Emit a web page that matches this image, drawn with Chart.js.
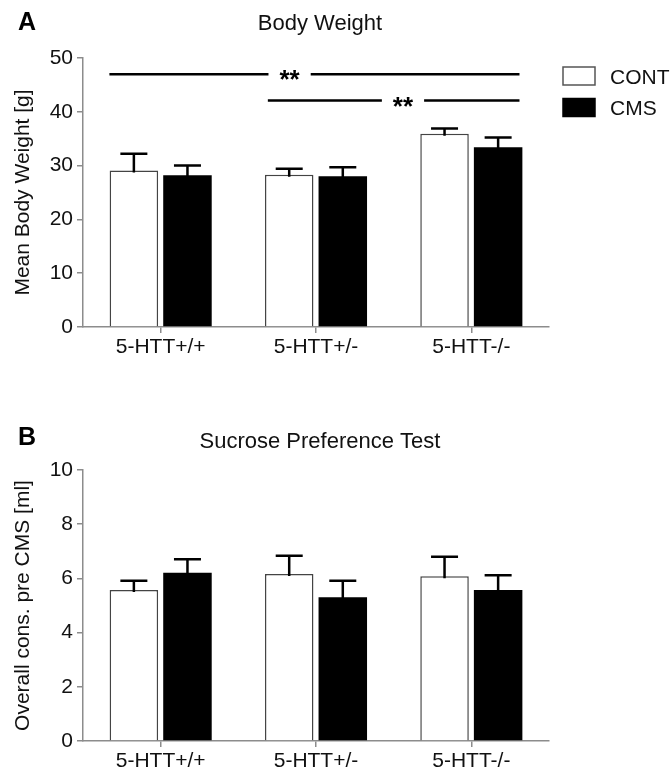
<!DOCTYPE html>
<html>
<head>
<meta charset="utf-8">
<script src="https://cdn.jsdelivr.net/npm/chart.js@4.4.1/dist/chart.umd.min.js"></script>
<style>
  html, body { margin: 0; padding: 0; background: #fff; }
  #wrap { position: relative; width: 672px; height: 773px; }
  .panel { position: absolute; left: 0; width: 672px; }
  #panelA { top: 0; height: 380px; }
  #panelB { top: 380px; height: 393px; }
</style>
</head>
<body>
<div id="wrap">
  <div class="panel" id="panelA"><canvas id="weightChart"></canvas></div>
  <div class="panel" id="panelB"><canvas id="sucroseChart"></canvas></div>
</div>
<script>
// Data
const genotypes = ['5-HTT+/+', '5-HTT+/-', '5-HTT-/-'];
const groupNames = ['CONT', 'CMS'];

const weightCont = [29.1, 28.3, 35.9];
const weightContErr = [3.1, 1.1, 1.0];
const weightCms = [28.2, 28.0, 33.4];
const weightCmsErr = [1.8, 1.7, 1.8];
const weightTicks = [0, 10, 20, 30, 40, 50];

const sucroseCont = [5.57, 6.16, 6.08];
const sucroseContErr = [0.34, 0.68, 0.72];
const sucroseCms = [6.21, 5.30, 5.57];
const sucroseCmsErr = [0.50, 0.61, 0.55];
const sucroseTicks = [0, 2, 4, 6, 8, 10];

// significance lines (x in category units, y in grams)
const weightSigFrom = [-0.33, 0.69];
const weightSigTo = [2.31, 2.31];
const weightSigY = [47.0, 42.1];
const weightSigAt = [0.83, 1.56];
const weightSigText = ['**', '**'];

const FONT = '"Liberation Sans", Arial, Helvetica, sans-serif';
const AXIS_GREY = '#8c8c8c';

// Error bars (upper only)
const errorBarPlugin = {
    id: 'errorBars',
    afterDatasetsDraw(chart) {
        const ctx = chart.ctx;
        const yScale = chart.scales.y;
        ctx.save();
        ctx.strokeStyle = '#000';
        ctx.lineWidth = 2.5;
        chart.data.datasets.forEach((ds, i) => {
            const meta = chart.getDatasetMeta(i);
            meta.data.forEach((bar, j) => {
                const top = yScale.getPixelForValue(ds.data[j] + ds.errors[j]);
                ctx.beginPath();
                ctx.moveTo(bar.x, bar.y + 2);
                ctx.lineTo(bar.x, top);
                ctx.moveTo(bar.x - 13.5, top);
                ctx.lineTo(bar.x + 13.5, top);
                ctx.stroke();
            });
        });
        ctx.restore();
    }
};

// Panel letter + title
const panelTextPlugin = {
    id: 'panelText',
    afterDraw(chart, args, opts) {
        const ctx = chart.ctx;
        ctx.save();
        ctx.fillStyle = '#000';
        ctx.textBaseline = 'alphabetic';
        ctx.textAlign = 'left';
        ctx.font = 'bold 25px ' + FONT;
        ctx.fillText(opts.letter, 18, opts.letterBase);
        ctx.textAlign = 'center';
        ctx.font = '22px ' + FONT;
        ctx.fillStyle = '#111';
        ctx.fillText(opts.title, opts.titleX, opts.titleBase);
        ctx.restore();
    }
};

// Significance lines
const sigPlugin = {
    id: 'sigLines',
    afterDatasetsDraw(chart, args, opts) {
        if (!opts.from) return;
        const ctx = chart.ctx;
        const xs = chart.scales.x, ys = chart.scales.y;
        ctx.save();
        ctx.font = 'bold 26px ' + FONT;
        ctx.textAlign = 'center';
        ctx.textBaseline = 'alphabetic';
        ctx.strokeStyle = '#000';
        ctx.fillStyle = '#000';
        ctx.lineWidth = 2.5;
        opts.from.forEach((f, k) => {
            const x0 = xs.getPixelForValue(f);
            const x1 = xs.getPixelForValue(opts.to[k]);
            const xt = xs.getPixelForValue(opts.at[k]);
            const y = ys.getPixelForValue(opts.y[k]);
            const half = ctx.measureText(opts.text[k]).width / 2 + 11;
            ctx.beginPath();
            ctx.moveTo(x0, y);
            ctx.lineTo(xt - half, y);
            ctx.moveTo(xt + half, y);
            ctx.lineTo(x1, y);
            ctx.stroke();
            ctx.fillText(opts.text[k], xt, y + 14);
        });
        ctx.restore();
    }
};

// Box legend on the right
const boxLegendPlugin = {
    id: 'boxLegend',
    afterDraw(chart, args, opts) {
        if (!opts.show) return;
        const ctx = chart.ctx;
        ctx.save();
        ctx.font = '21px ' + FONT;
        ctx.textAlign = 'left';
        ctx.textBaseline = 'alphabetic';
        chart.data.datasets.forEach((ds, i) => {
            const x = opts.x, y = opts.y + i * opts.step;
            ctx.fillStyle = ds.backgroundColor;
            ctx.fillRect(x, y, 32, 18);
            ctx.strokeStyle = ds.legendBorder;
            ctx.lineWidth = 1.5;
            ctx.strokeRect(x, y, 32, 18);
            ctx.fillStyle = '#111';
            ctx.fillText(ds.label, x + 47, y + 16.5);
        });
        ctx.restore();
    }
};

function makeDatasets(cont, contErr, cms, cmsErr) {
    return [{
        label: groupNames[0],
        data: cont,
        errors: contErr,
        backgroundColor: '#ffffff',
        borderColor: '#444444',
        legendBorder: '#555555',
        borderWidth: 1.5
    }, {
        label: groupNames[1],
        data: cms,
        errors: cmsErr,
        backgroundColor: '#000000',
        borderColor: '#000000',
        legendBorder: '#000000',
        borderWidth: 0
    }];
}

function makeScales(ticks, title, xHeight) {
    return {
        x: {
            grid: {
                drawOnChartArea: false,
                drawTicks: true,
                tickLength: 6,
                offset: false,
                color: AXIS_GREY,
                lineWidth: 1.5
            },
            border: { display: true, color: AXIS_GREY, width: 1.5 },
            ticks: { color: '#111', font: { family: FONT, size: 21 }, padding: 2 },
            afterFit: s => { s.height = xHeight; }
        },
        y: {
            min: ticks[0],
            max: ticks[ticks.length - 1],
            afterBuildTicks: s => { s.ticks = ticks.map(v => ({ value: v })); },
            grid: {
                drawOnChartArea: false,
                drawTicks: true,
                tickLength: 6,
                color: AXIS_GREY,
                lineWidth: 1.5
            },
            border: { display: true, color: AXIS_GREY, width: 1.5 },
            ticks: { color: '#111', font: { family: FONT, size: 21 }, padding: 4 },
            title: {
                display: true,
                text: title,
                color: '#111',
                font: { family: FONT, size: 21 },
                padding: { top: 11, bottom: 0 }
            },
            afterFit: s => { s.width = 83; }
        }
    };
}

function buildChart(canvasId, cfg) {
    const ctx = document.getElementById(canvasId).getContext('2d');
    return new Chart(ctx, {
        type: 'bar',
        data: {
            labels: genotypes,
            datasets: makeDatasets(cfg.cont, cfg.contErr, cfg.cms, cfg.cmsErr)
        },
        options: {
            responsive: true,
            maintainAspectRatio: false,
            animation: false,
            categoryPercentage: 0.69,
            barPercentage: 0.905,
            layout: { padding: { top: cfg.top, right: 123, bottom: 0, left: 0 } },
            plugins: {
                legend: { display: false },
                tooltip: { enabled: false },
                panelText: cfg.text,
                sigLines: cfg.sig || {},
                boxLegend: cfg.legend || { show: false }
            },
            scales: makeScales(cfg.ticks, cfg.yTitle, cfg.xHeight)
        },
        plugins: [errorBarPlugin, sigPlugin, panelTextPlugin, boxLegendPlugin]
    });
}

document.addEventListener('DOMContentLoaded', function () {
    Chart.defaults.font.family = FONT;

    // Body Weight
    buildChart('weightChart', {
        cont: weightCont, contErr: weightContErr,
        cms: weightCms, cmsErr: weightCmsErr,
        ticks: weightTicks,
        yTitle: 'Mean Body Weight [g]',
        top: 58, xHeight: 53,
        text: { letter: 'A', letterBase: 30, title: 'Body Weight', titleX: 320, titleBase: 29.5 },
        sig: { from: weightSigFrom, to: weightSigTo, y: weightSigY, at: weightSigAt, text: weightSigText },
        legend: { show: true, x: 563, y: 67, step: 31.5 }
    });

    // Sucrose Preference Test
    buildChart('sucroseChart', {
        cont: sucroseCont, contErr: sucroseContErr,
        cms: sucroseCms, cmsErr: sucroseCmsErr,
        ticks: sucroseTicks,
        yTitle: 'Overall cons. pre CMS [ml]',
        top: 90, xHeight: 32,
        text: { letter: 'B', letterBase: 65, title: 'Sucrose Preference Test', titleX: 320, titleBase: 67.5 }
    });
});
</script>
</body>
</html>
